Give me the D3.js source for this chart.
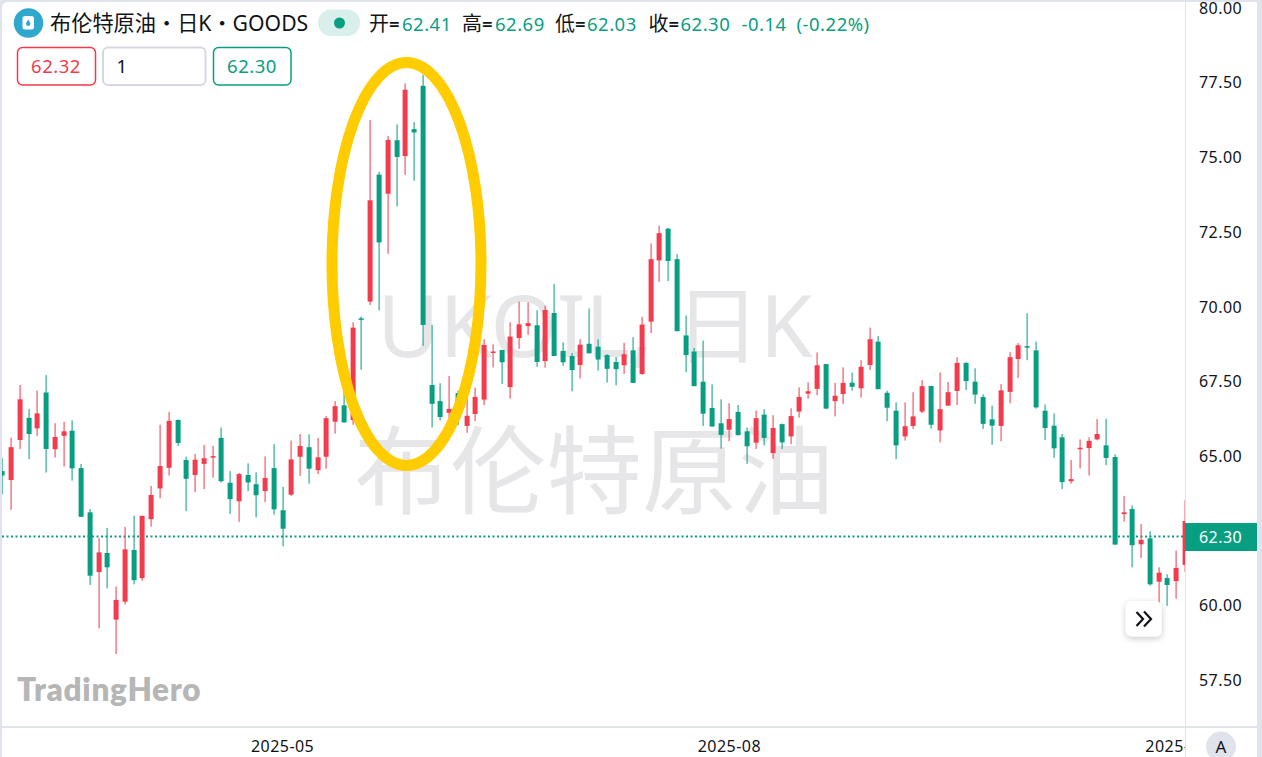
<!DOCTYPE html>
<html><head><meta charset="utf-8">
<script src="https://cdnjs.cloudflare.com/ajax/libs/d3/7.8.5/d3.min.js"></script>
<style>html,body{margin:0;padding:0;background:#fff;overflow:hidden}svg{display:block}text{font-family:"Noto Sans","Noto Sans CJK SC",sans-serif}</style>
</head><body><div id="c"></div>
<script>
const opens=[64.49,64.19,65.53,66.27,65.92,67.12,65.22,65.67,65.84,64.59,63.11,61.11,61.75,59.52,60.12,61.85,60.91,62.88,63.91,64.60,66.20,64.86,64.36,64.73,64.95,65.60,64.10,63.48,64.36,64.05,63.82,64.59,63.18,63.70,64.97,65.29,64.52,64.97,66.14,66.69,66.20,69.60,70.16,74.41,73.77,75.56,75.03,75.93,77.38,67.37,66.83,66.44,67.10,66.00,66.40,66.88,68.45,68.54,67.30,68.94,69.34,69.37,68.17,69.78,68.51,68.34,68.04,68.75,68.65,68.37,68.14,68.03,68.53,67.74,69.49,71.54,72.60,71.58,69.03,68.49,67.48,66.60,66.09,65.87,66.47,65.82,65.44,66.38,65.09,66.06,65.65,66.48,67.08,67.24,68.07,66.83,67.07,67.45,67.26,68.04,68.82,67.11,66.51,65.65,66.00,66.48,67.34,65.85,66.68,67.17,68.11,67.48,66.97,66.22,66.00,67.14,68.24,68.67,68.53,66.51,66.01,65.62,64.15,65.23,65.26,65.55,65.35,64.96,63.05,63.22,62.04,62.24,60.79,60.91,60.81,61.35];
const highs=[64.92,65.61,67.37,66.57,67.18,67.70,66.09,66.14,66.19,64.73,63.22,62.25,62.59,60.63,62.62,63.00,63.00,63.99,66.04,66.47,66.22,64.97,65.06,65.36,65.33,65.95,64.49,64.43,64.75,64.45,64.98,65.39,63.96,65.51,65.73,65.72,65.60,66.33,66.83,67.15,69.47,69.66,76.24,74.50,75.70,76.09,77.46,76.17,77.75,69.38,67.43,67.67,67.18,66.98,67.28,68.90,68.73,68.54,69.47,70.16,70.14,69.87,70.02,70.75,68.80,68.44,68.90,69.93,68.90,68.40,68.31,68.78,68.97,69.65,72.11,72.70,72.63,71.75,69.70,68.61,68.86,67.39,66.89,66.76,66.70,65.95,66.52,66.56,66.36,66.08,66.59,67.29,67.46,68.46,68.08,67.44,67.96,67.79,68.20,69.29,69.01,67.18,66.79,66.79,67.13,67.53,67.34,67.79,67.47,68.30,68.13,67.93,67.06,66.68,67.40,68.47,68.77,69.77,68.82,66.72,66.42,65.73,64.86,65.55,65.62,66.23,66.24,65.05,63.66,63.34,62.72,62.48,61.27,61.04,61.83,63.52];
const lows=[63.71,63.19,65.23,64.89,65.66,64.44,64.94,64.64,64.17,62.96,60.68,59.23,60.57,58.37,60.03,60.70,60.82,62.63,63.58,64.34,65.33,63.15,63.79,63.89,64.27,64.11,63.05,62.79,63.82,62.94,63.45,63.03,61.97,63.66,64.33,64.07,64.39,64.57,65.74,66.10,66.04,67.88,70.05,69.86,71.76,73.34,74.40,74.20,68.68,65.95,66.18,66.27,66.03,65.77,66.16,66.70,67.96,67.40,66.91,68.58,69.05,67.98,67.95,68.34,68.01,67.16,67.59,68.43,67.85,67.45,67.36,67.74,67.44,67.71,69.11,70.82,70.85,69.17,67.80,67.33,66.00,65.98,65.24,65.49,65.69,64.73,65.23,65.35,64.90,65.23,65.39,66.28,66.91,67.03,66.57,66.32,66.73,67.18,66.95,67.87,67.23,66.16,64.89,65.51,65.90,66.43,65.91,65.45,66.68,66.70,67.20,66.74,65.90,65.37,65.49,66.76,67.60,68.20,66.58,65.53,64.93,63.89,64.07,64.58,64.34,65.52,64.69,62.03,62.80,61.27,61.58,60.66,60.04,59.98,60.22,61.12];
const closes=[64.34,65.29,66.89,65.73,66.42,65.23,65.63,65.82,64.58,62.96,60.99,61.77,61.27,60.18,61.87,60.84,62.99,63.69,64.66,66.17,65.43,64.23,64.87,64.92,64.99,64.15,63.55,64.39,64.11,63.68,64.26,63.21,62.56,64.88,65.33,64.57,64.95,66.26,66.66,66.12,69.29,69.55,73.55,72.14,75.57,75.00,77.25,75.82,69.38,66.74,66.30,66.57,66.27,66.34,66.97,68.71,68.49,68.13,68.99,69.40,69.44,68.14,69.88,68.34,68.13,67.87,68.72,68.43,68.22,67.91,67.90,68.40,67.44,69.39,71.58,72.45,71.52,69.17,68.37,67.33,66.41,65.98,65.70,66.23,65.69,65.32,66.26,65.60,65.93,65.45,66.33,66.97,67.16,68.03,66.58,67.01,67.44,67.31,67.98,68.90,67.23,66.61,65.35,65.99,66.32,67.33,66.04,66.56,67.13,68.11,67.50,67.05,66.07,66.01,67.19,68.30,68.70,68.63,66.62,65.93,65.25,64.12,64.22,65.27,65.50,65.73,64.93,62.03,63.11,62.01,62.19,60.70,61.09,60.68,61.25,62.82];
const priceTicks=[80,77.5,75,72.5,70,67.5,65,60,57.5];
const timeTicks=[{i:32,label:"2025-05"},{i:83,label:"2025-08"},{i:133,label:"2025-"}];
const lastPrice=62.30;
const header=[["开","=","62.41",369,402],["高","=","62.69",462,495],["低","=","62.03",555,587],["收","=","62.30",648.5,680.5]];
const changeText="-0.14";const changePct="(-0.22%)";
const RED="#F23B4C",GREEN="#089E82",AXIS="#E0E3EB",INK="#111318";
const W=1262,H=757,paneR=1185,paneB=727;
const svg=d3.select("#c").append("svg").attr("width",W).attr("height",H);
const y=d3.scaleLinear().domain([57.5,80]).range([680,7.5]);
const x=d3.scaleLinear().domain([0,135]).range([2.3,1184.9]);
// frame
svg.append("rect").attr("width",W).attr("height",H).attr("fill",AXIS);
svg.append("path").attr("d",`M2,8 Q2,2 8,2 H1257 V757 H2 Z`).attr("fill","#fff");
// watermark
const wm=svg.append("g").attr("fill","#E6E6E8").attr("text-anchor","middle");
wm.append("text").attr("x",595).attr("y",357).attr("font-size",85).text("UKOIL, 日K");
wm.append("text").attr("x",594).attr("y",506).attr("font-size",96).style("font-family",'"Noto Sans CJK SC"').text("布伦特原油");
// clip
svg.append("clipPath").attr("id","pane").append("rect").attr("x",2).attr("y",2).attr("width",paneR-2).attr("height",paneB-2);
const pane=svg.append("g").attr("clip-path","url(#pane)");
// last-price line
pane.append("line").attr("x1",2).attr("x2",paneR).attr("y1",y(lastPrice)).attr("y2",y(lastPrice)).attr("stroke",GREEN).attr("stroke-width",2).attr("stroke-dasharray","2 2.5");
// candles
const rows=d3.range(opens.length).map(i=>({i,o:opens[i],h:highs[i],l:lows[i],c:closes[i]}));
const cg=pane.selectAll("g.c").data(rows).join("g").attr("class","c").attr("fill",d=>d.c>d.o?RED:GREEN);
cg.append("rect").attr("x",d=>Math.round(x(d.i))-0.5).attr("width",1.2).attr("y",d=>y(d.h)).attr("height",d=>y(d.l)-y(d.h)).attr("opacity",.85);
cg.append("rect").attr("x",d=>Math.round(x(d.i))-2.4).attr("width",5).attr("y",d=>y(Math.max(d.o,d.c))).attr("height",d=>Math.max(1.5,Math.abs(y(d.o)-y(d.c))));
// axes frame
svg.append("line").attr("x1",paneR+.5).attr("x2",paneR+.5).attr("y1",2).attr("y2",H).attr("stroke",AXIS).attr("stroke-width",1);
svg.append("line").attr("x1",2).attr("x2",1257).attr("y1",paneB).attr("y2",paneB).attr("stroke",AXIS).attr("stroke-width",2);
// price axis
const yAxis=svg.append("g").attr("transform",`translate(${paneR},0.5)`).call(d3.axisRight(y).tickValues(priceTicks).tickSize(0).tickPadding(14).tickFormat(d3.format(".2f")));
yAxis.select(".domain").remove();
yAxis.selectAll("text").attr("font-size",16).attr("fill",INK).style("letter-spacing","0.45px");
// last price label
svg.append("rect").attr("x",paneR).attr("y",y(lastPrice)-13.5).attr("width",1257-paneR).attr("height",28).attr("fill",GREEN);
svg.append("text").attr("x",1199).attr("y",y(lastPrice)+6).attr("font-size",16).attr("fill","#fff").style("letter-spacing","0.45px").text(d3.format(".2f")(lastPrice));
// time axis
svg.append("clipPath").attr("id","taxis").append("rect").attr("x",2).attr("y",paneB).attr("width",paneR-2).attr("height",H-paneB);
svg.append("g").attr("clip-path","url(#taxis)").selectAll("text").data(timeTicks).join("text").attr("x",d=>x(d.i)).attr("y",752).attr("text-anchor","middle").attr("font-size",16).attr("fill",INK).style("letter-spacing","0.45px").text(d=>d.label);
// A button
svg.append("circle").attr("cx",1221).attr("cy",746.5).attr("r",15).attr("fill",AXIS);
svg.append("text").attr("x",1221).attr("y",752.5).attr("text-anchor","middle").attr("font-size",17).attr("fill",INK).text("A");
// scroll button
const defs=svg.append("defs");
const f=defs.append("filter").attr("id","sh").attr("x","-40%").attr("y","-40%").attr("width","180%").attr("height","180%");
f.append("feDropShadow").attr("dx",0).attr("dy",2).attr("stdDeviation",3).attr("flood-color","#000").attr("flood-opacity",.22);
svg.append("rect").attr("x",1125.7).attr("y",601).attr("width",36).attr("height",35.5).attr("rx",6).attr("fill","#fff").attr("filter","url(#sh)");
svg.append("path").attr("d","M1136.5,612 L1143,619 L1136.5,626 M1144,611.5 L1151,619 L1144,626.5").attr("fill","none").attr("stroke",INK).attr("stroke-width",2.2);
// ellipse
svg.append("ellipse").attr("cx",406.5).attr("cy",264).attr("rx",74.5).attr("ry",201.5).attr("fill","none").attr("stroke","#FFCC00").attr("stroke-width",11);
// logo
svg.append("text").attr("x",17).attr("y",701).attr("font-size",31.5).attr("font-weight",800).attr("fill","#B6B6B6").style("font-family","Lato").style("letter-spacing","0.7px").text("TradingHero");
// header
svg.append("circle").attr("cx",28.5).attr("cy",23).attr("r",14.7).attr("fill","#30A7CC");
svg.append("rect").attr("x",22.5).attr("y",16).attr("width",11.5).attr("height",13.5).attr("rx",2.5).attr("fill","#fff");
svg.append("path").attr("d","M28.2,19.5 C29.8,22 30.3,23 30.3,24 A2.1,2.1 0 0 1 26.1,24 C26.1,23 26.6,22 28.2,19.5Z").attr("fill","#30A7CC");
svg.append("text").attr("x",50).attr("y",31).attr("font-size",21.2).attr("fill",INK).text("布伦特原油・日K・GOODS");
svg.append("rect").attr("x",318).attr("y",9.5).attr("width",42).attr("height",26.5).attr("rx",13).attr("fill","#D9EFEB");
svg.append("circle").attr("cx",339.5).attr("cy",23).attr("r",5.5).attr("fill",GREEN);
const hdr=svg.append("g").attr("font-size",18.5).style("letter-spacing","0.5px");
header.forEach(([a,eq,b,px,vx])=>{
  hdr.append("text").attr("x",px).attr("y",31).attr("font-size",20).attr("fill",INK).text(a);
  hdr.append("text").attr("x",px+20).attr("y",31).attr("font-weight",600).attr("fill",INK).text(eq);
  hdr.append("text").attr("x",vx).attr("y",31).attr("fill",GREEN).text(b);
});
hdr.append("text").attr("x",741.5).attr("y",31).attr("fill",GREEN).text(changeText);
hdr.append("text").attr("x",796.5).attr("y",31).attr("fill",GREEN).text(changePct);
// order boxes
const box=(x0,w,stroke,sw)=>svg.append("rect").attr("x",x0).attr("y",47.5).attr("width",w).attr("height",37.5).attr("rx",5).attr("fill","#fff").attr("stroke",stroke).attr("stroke-width",sw);
box(17.5,78,RED,1.5);box(103,102.5,"#D5D8E1",2);box(213.5,77.5,GREEN,1.5);
const bt=svg.append("g").attr("font-size",18.5).style("letter-spacing","0.5px");
bt.append("text").attr("x",56).attr("y",73).attr("text-anchor","middle").attr("fill",RED).text("62.32");
bt.append("text").attr("x",116.5).attr("y",73).attr("fill",INK).text("1");
bt.append("text").attr("x",252).attr("y",73).attr("text-anchor","middle").attr("fill",GREEN).text("62.30");
</script></body></html>
